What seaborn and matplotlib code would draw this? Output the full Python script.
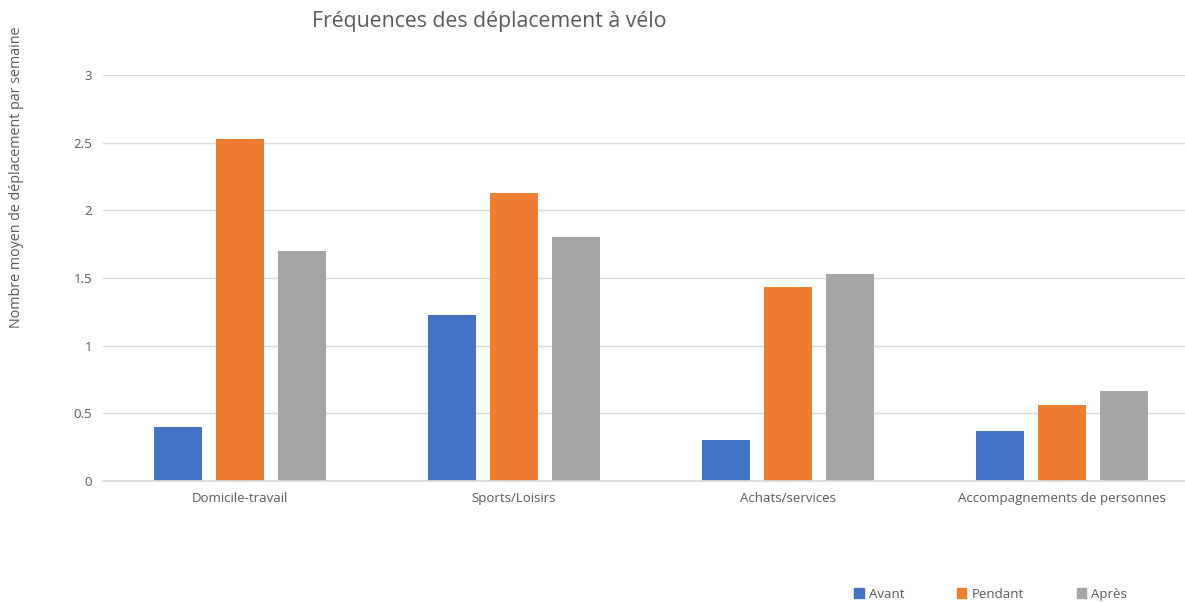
import pandas as pd
import seaborn as sns
import matplotlib.pyplot as plt

# data
categories = ['Domicile-travail', 'Sports/Loisirs', 'Achats/services', 'Accompagnements de personnes']
periods = ['Avant', 'Pendant', 'Après']
avant = [0.40, 1.23, 0.30, 0.37]
pendant = [2.53, 2.13, 1.43, 0.56]
apres = [1.70, 1.80, 1.53, 0.665]

df = pd.DataFrame({
    'Catégorie': categories * 3,
    'Période': [p for p in periods for _ in categories],
    'Valeur': avant + pendant + apres,
})

sns.set_theme(style="white")
plt.rcParams['font.family'] = ['Open Sans', 'DejaVu Sans']
txt = '#595959'

fig = plt.figure(figsize=(11.85, 6.02), dpi=100)
ax = fig.add_axes([0.087, 0.201, 0.913, 0.6744])

palette = {'Avant': '#4472C4', 'Pendant': '#ED7D31', 'Après': '#A5A5A5'}
sns.barplot(data=df, x='Catégorie', y='Valeur', hue='Période', palette=palette,
            width=0.678, gap=0.226, saturation=1, linewidth=0, ax=ax, legend=False)

ax.set_ylim(0, 3)
ax.set_xlim(-0.5, 3.45)
ax.set_yticks([0, 0.5, 1, 1.5, 2, 2.5, 3])
ax.set_yticklabels(['0', '0.5', '1', '1.5', '2', '2.5', '3'])
ax.yaxis.grid(True, color='#D9D9D9', linewidth=1)
ax.set_axisbelow(True)
for s in ['top', 'right', 'left']:
    ax.spines[s].set_visible(False)
ax.spines['bottom'].set_color('#D9D9D9')
ax.tick_params(axis='both', colors=txt, labelsize=9.5, length=0, pad=8)
ax.set_xlabel('')
ax.set_ylabel('')

fig.text(0.413, 0.965, 'Fréquences des déplacement à vélo', ha='center', va='center',
         fontsize=15.3, color=txt)
fig.text(0.014, 0.705, 'Nombre moyen de déplacement par semaine', rotation=90,
         ha='center', va='center', fontsize=10.3, color=txt)

handles = [plt.Rectangle((0, 0), 1, 1, color=palette[p]) for p in periods]
fig.legend(handles, periods, loc='center', bbox_to_anchor=(0.836, 0.013), ncol=3,
           frameon=False, fontsize=9.5, handlelength=0.7, handleheight=0.7,
           columnspacing=4, handletextpad=0.4, labelcolor=txt)

fig.savefig('out.png', dpi=100)
